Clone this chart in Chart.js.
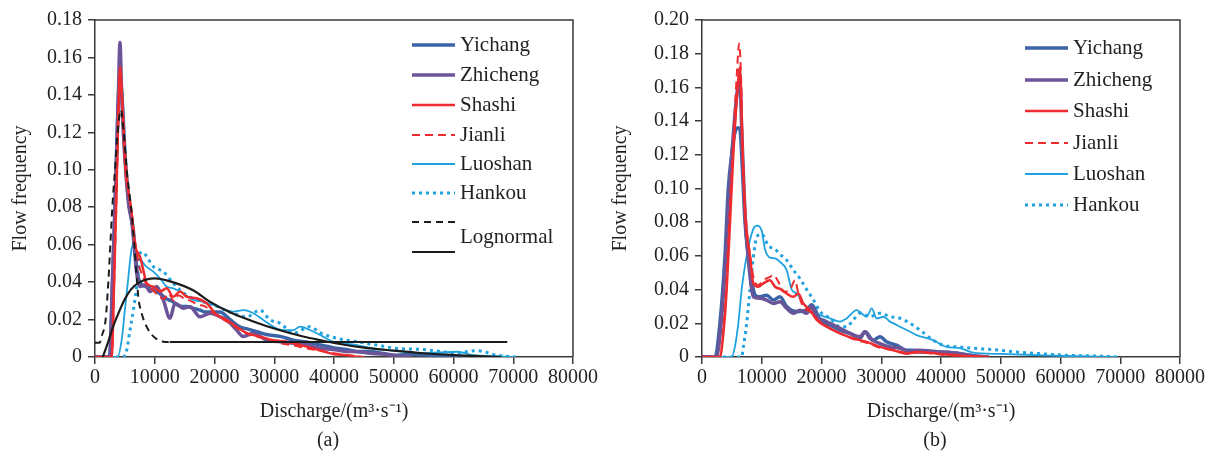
<!DOCTYPE html>
<html>
<head>
<meta charset="utf-8">
<script src="https://cdn.jsdelivr.net/npm/chart.js@4.4.0/dist/chart.umd.min.js"></script>
<style>
  html, body { margin: 0; padding: 0; background: #fff; }
  #wrap { position: relative; width: 1208px; height: 458px; }
  #chart_a { position: absolute; left: 0; top: 0; }
  #chart_b { position: absolute; left: 600px; top: 0; }
</style>
</head>
<body>
<div id="wrap">
  <canvas id="chart_a" width="600" height="458"></canvas>
  <canvas id="chart_b" width="608" height="458"></canvas>
</div>
<script>
// ---- panel (a) : discharge (m3/s) and flow frequency ----
var a_yichang_x = [0, 2400, 2900, 3400, 3800, 4200, 4600, 5000, 5500, 6000, 6400, 7000, 7500, 8600, 9500, 10300, 11200, 12000, 12800, 13700, 14500, 15400, 16500, 17600, 18500, 19300, 20900, 22600, 24300, 25500, 26500, 27600, 28700, 31000, 33200, 35400, 37700, 39800, 42000, 43800, 46000, 48000, 50500, 53000, 56000, 60000, 62000]
var a_yichang_y = [0, 0, 0.035, 0.085, 0.13, 0.150, 0.135, 0.11, 0.088, 0.075, 0.068, 0.047, 0.040, 0.0376, 0.036, 0.035, 0.033, 0.031, 0.030, 0.028, 0.027, 0.027, 0.026, 0.025, 0.024, 0.024, 0.024, 0.020, 0.016, 0.015, 0.014, 0.013, 0.012, 0.011, 0.009, 0.008, 0.0064, 0.005, 0.004, 0.003, 0.003, 0.002, 0.001, 0.0015, 0.001, 0.0008, 0]

var a_zhicheng_x = [0, 2500, 2900, 3350, 3740, 3910, 4180, 4460, 4740, 5130, 5690, 6140, 6530, 6970, 7530, 8370, 9200, 10320, 11430, 12550, 13390, 14780, 15900, 17570, 19250, 20920, 22040, 23700, 24830, 26500, 28730, 30960, 33190, 35430, 37660, 39800, 42000, 44000, 46000, 48000, 50500, 53000]
var a_zhicheng_y = [0, 0, 0.04, 0.08, 0.12, 0.14, 0.168, 0.14, 0.12, 0.10, 0.08, 0.073, 0.06, 0.045, 0.0376, 0.0385, 0.035, 0.0376, 0.0305, 0.0207, 0.0287, 0.026, 0.0269, 0.0215, 0.0234, 0.0215, 0.0198, 0.0144, 0.011, 0.0127, 0.009, 0.0082, 0.0073, 0.0064, 0.0046, 0.004, 0.003, 0.0028, 0.002, 0.0016, 0.0007, 0]

var a_shashi_x = [0, 2800, 3200, 3600, 3900, 4200, 4500, 4800, 5100, 5500, 6100, 6700, 7530, 8080, 8640, 9760, 10880, 12000, 13100, 14230, 15350, 17020, 18690, 20360, 22040, 23700, 25400, 27600, 29840, 32070, 34300, 36540, 38200, 40000, 42000, 44000]
var a_shashi_y = [0, 0, 0.04, 0.09, 0.13, 0.155, 0.14, 0.12, 0.10, 0.09, 0.078, 0.06, 0.0536, 0.0465, 0.0394, 0.0376, 0.035, 0.0367, 0.0322, 0.035, 0.0322, 0.0314, 0.0287, 0.0225, 0.0198, 0.0162, 0.0127, 0.0109, 0.009, 0.0082, 0.0064, 0.0046, 0.003, 0.0015, 0.001, 0]

var a_jianli_x = [0, 2800, 3200, 3600, 3900, 4250, 4600, 5000, 5500, 6100, 6700, 7300, 8000, 8800, 9600, 10500, 11500, 12300, 13200, 14000, 15000, 16000, 17200, 18400, 19600, 21000, 22500, 24000, 25800, 27500, 29500, 31500, 33500, 35500, 37500, 40000, 42500, 45000]
var a_jianli_y = [0, 0, 0.038, 0.085, 0.125, 0.148, 0.135, 0.112, 0.092, 0.078, 0.062, 0.05, 0.043, 0.038, 0.036, 0.033, 0.031, 0.034, 0.03, 0.033, 0.031, 0.03, 0.028, 0.027, 0.024, 0.021, 0.018, 0.015, 0.012, 0.0105, 0.0085, 0.007, 0.006, 0.0045, 0.0035, 0.002, 0.001, 0]

var a_luoshan_x = [0, 3800, 4500, 5000, 5500, 6000, 6300, 6980, 8370, 9760, 10880, 12000, 13100, 14780, 16450, 18100, 19800, 22040, 23150, 24830, 26500, 28170, 29840, 31500, 33190, 34300, 35980, 37660, 39830, 43800, 46500, 49900, 54900, 60600, 63300, 67300, 70000]
var a_luoshan_y = [0, 0, 0.01, 0.025, 0.04, 0.055, 0.060, 0.056, 0.049, 0.0456, 0.042, 0.0376, 0.0367, 0.034, 0.0305, 0.0296, 0.0278, 0.025, 0.0242, 0.025, 0.0234, 0.0198, 0.0162, 0.0144, 0.0144, 0.0162, 0.0144, 0.0118, 0.0082, 0.0064, 0.0046, 0.0034, 0.002, 0.0028, 0.001, 0.0005, 0]

var a_hankou_x = [0, 4700, 5300, 5860, 6420, 6980, 7250, 7530, 8080, 8640, 9760, 11430, 13100, 15350, 17570, 19800, 22600, 25400, 27600, 29300, 31000, 33200, 36000, 37660, 40440, 43780, 47130, 50500, 54900, 60530, 63880, 67230, 70600]
var a_hankou_y = [0, 0, 0.0037, 0.0144, 0.025, 0.0376, 0.0465, 0.0555, 0.056, 0.0536, 0.0483, 0.0456, 0.0394, 0.033, 0.030, 0.0278, 0.024, 0.0215, 0.025, 0.0198, 0.018, 0.0127, 0.0162, 0.0130, 0.010, 0.0082, 0.0064, 0.0046, 0.004, 0.0023, 0.0034, 0.001, 0]

// lognormal fits
var a_logdash_x = [0, 800, 1110, 1780, 2230, 2570, 2900, 3350, 3790, 4350, 4800, 5300, 6030, 6580, 7000, 7250, 7800, 8640, 9760, 11430, 12500, 69000]
var a_logdash_y = [0.0076, 0.0076, 0.011, 0.02, 0.04, 0.06, 0.08, 0.10, 0.12, 0.132, 0.12, 0.10, 0.08, 0.06, 0.042, 0.032, 0.0234, 0.0162, 0.011, 0.0082, 0.008, 0.008]

var a_logsolid_x = [1300, 2200, 3000, 4000, 5000, 6000, 7500, 10000, 13000, 16500, 19000, 22500, 26500, 30400, 35000, 38000, 40000, 45000, 50000, 55000, 60000, 65000, 68000]
var a_logsolid_y = [0, 0.008, 0.016, 0.024, 0.031, 0.036, 0.040, 0.042, 0.040, 0.0355, 0.030, 0.024, 0.019, 0.0148, 0.0108, 0.0088, 0.0075, 0.005, 0.0034, 0.002, 0.001, 0.0004, 0]

// ---- panel (b) ----
var b_yichang_x = [0, 2180, 3000, 3850, 4400, 4970, 5500, 6080, 6360, 6640, 7200, 7750, 8590, 9150, 9710, 10830, 11940, 13050, 14170, 15850, 17520, 18360, 19750, 21420, 23100, 24770, 26440, 27280, 28680, 29790, 30900, 32580, 34260, 35360, 36500, 39830, 43180, 46000, 48000]
var b_yichang_y = [0, 0, 0.02, 0.06, 0.10, 0.12, 0.133, 0.136, 0.135, 0.12, 0.08, 0.06, 0.04, 0.036, 0.0357, 0.0367, 0.0338, 0.0357, 0.030, 0.027, 0.028, 0.031, 0.022, 0.019, 0.016, 0.014, 0.011, 0.015, 0.010, 0.012, 0.009, 0.007, 0.004, 0.004, 0.003, 0.003, 0.002, 0.0005, 0]

var b_zhicheng_x = [0, 2400, 3200, 4000, 4600, 5200, 5800, 6300, 6700, 7200, 7700, 8590, 9710, 10830, 11940, 13050, 14170, 15290, 16400, 17520, 18360, 19190, 20300, 21420, 23100, 24770, 26440, 27280, 28120, 29790, 31460, 33140, 34810, 35930, 39830, 43180, 46000, 48000]
var b_zhicheng_y = [0, 0, 0.02, 0.06, 0.10, 0.13, 0.155, 0.165, 0.13, 0.085, 0.06, 0.0357, 0.0348, 0.0338, 0.0318, 0.0328, 0.0289, 0.0259, 0.0278, 0.0259, 0.0298, 0.0239, 0.0219, 0.020, 0.017, 0.014, 0.012, 0.015, 0.011, 0.008, 0.006, 0.0052, 0.003, 0.004, 0.003, 0.002, 0.0005, 0]

var b_shashi_x = [0, 3000, 3600, 4130, 4690, 5240, 5970, 6360, 6810, 7300, 8030, 8590, 9430, 10260, 11380, 12220, 13330, 14170, 15290, 16120, 16950, 18080, 19190, 20860, 23100, 25330, 27560, 29790, 32020, 34260, 35930, 39830, 44300, 48000]
var b_shashi_y = [0, 0, 0.015, 0.04, 0.08, 0.12, 0.16, 0.172, 0.12, 0.08, 0.06, 0.0437, 0.0417, 0.0437, 0.0456, 0.0417, 0.040, 0.0377, 0.0357, 0.0377, 0.0318, 0.0278, 0.022, 0.018, 0.014, 0.011, 0.009, 0.006, 0.004, 0.002, 0.003, 0.0018, 0.0006, 0]

var b_jianli_x = [0, 3000, 3600, 4100, 4600, 5200, 5700, 6000, 6200, 6500, 6800, 7300, 8000, 8590, 9430, 10260, 11380, 11940, 12780, 13610, 14730, 15570, 16120, 16950, 18080, 19750, 21420, 23500, 25500, 27500, 29800, 32000, 34500, 37000, 40000, 44000, 48000]
var b_jianli_y = [0, 0, 0.018, 0.045, 0.085, 0.125, 0.16, 0.178, 0.186, 0.17, 0.125, 0.085, 0.062, 0.0476, 0.0427, 0.0456, 0.0476, 0.0486, 0.0446, 0.0387, 0.040, 0.0456, 0.0377, 0.0298, 0.0269, 0.021, 0.017, 0.0135, 0.0105, 0.0085, 0.0055, 0.0042, 0.0025, 0.0025, 0.0015, 0.0005, 0]

var b_luoshan_x = [0, 4970, 5500, 6080, 6640, 7480, 8590, 9200, 9990, 10540, 11380, 12220, 13050, 14170, 15010, 15850, 16950, 18080, 19750, 21420, 23100, 24210, 25890, 27560, 28400, 29230, 30350, 31460, 32580, 34260, 35930, 38670, 40950, 43180, 45370, 49870, 55400, 61000, 69500]
var b_luoshan_y = [0, 0, 0.006, 0.02, 0.04, 0.06, 0.076, 0.078, 0.075, 0.064, 0.059, 0.0585, 0.0565, 0.0516, 0.040, 0.0377, 0.0318, 0.0278, 0.0249, 0.0229, 0.021, 0.0229, 0.0278, 0.0239, 0.0289, 0.0229, 0.0239, 0.021, 0.019, 0.016, 0.013, 0.010, 0.006, 0.0052, 0.0026, 0.0018, 0.0012, 0.0006, 0]

var b_hankou_x = [0, 6640, 6920, 7480, 8030, 8590, 9150, 9990, 11100, 12220, 13050, 14170, 15290, 16400, 17520, 18630, 19750, 21420, 23100, 24210, 25330, 26440, 28120, 29790, 31460, 33140, 34810, 36490, 38670, 40390, 42600, 46000, 49900, 52700, 56600, 61000, 66600, 69500]
var b_hankou_y = [0, 0, 0.006, 0.020, 0.040, 0.059, 0.071, 0.073, 0.066, 0.064, 0.061, 0.0575, 0.0516, 0.0466, 0.040, 0.034, 0.027, 0.023, 0.018, 0.018, 0.022, 0.026, 0.024, 0.026, 0.024, 0.023, 0.020, 0.016, 0.010, 0.007, 0.006, 0.005, 0.004, 0.003, 0.002, 0.001, 0.0005, 0]

// axis ticks
var x_ticks = [0, 10000, 20000, 30000, 40000, 50000, 60000, 70000, 80000]
var a_y_max = 0.18
var b_y_max = 0.20

var colors = {
  yichang: '#3b64a6',
  zhicheng: '#6b5598',
  red: '#ee2b2e',
  light: '#1fa2de',
  black: '#1c1c1c'
}

var serif = '"Liberation Serif", "Times New Roman", serif'
var text_color = '#231f20'
var axis_color = '#3a3a3a'

function pts(xs, ys) {
  return xs.map(function (x, i) { return { x: x, y: ys[i] } })
}

function series(label, xs, ys, color, width, dash, order) {
  return {
    label: label,
    data: pts(xs, ys),
    borderColor: color,
    borderWidth: width,
    borderDash: dash,
    pointRadius: 0,
    fill: false,
    cubicInterpolationMode: 'monotone',
    order: order
  }
}

// frame on top and right side of the plot
var framePlugin = {
  id: 'frame',
  afterDatasetsDraw: function (chart) {
    var a = chart.chartArea, c = chart.ctx
    c.save()
    c.strokeStyle = axis_color
    c.lineWidth = 1.5
    c.beginPath()
    c.moveTo(a.left, a.top)
    c.lineTo(a.right, a.top)
    c.lineTo(a.right, a.bottom)
    c.stroke()
    c.restore()
  }
}

// legend drawn inside the plot, plus the panel letter
var sideLegend = {
  id: 'sideLegend',
  afterDraw: function (chart, args, opts) {
    var c = chart.ctx
    c.save()
    c.font = '21px ' + serif
    c.textBaseline = 'middle'
    c.textAlign = 'left'
    c.fillStyle = text_color
    opts.rows.forEach(function (row) {
      var ds = chart.data.datasets[row.ds]
      c.strokeStyle = ds.borderColor
      c.lineWidth = ds.borderWidth
      c.setLineDash(row.dash || ds.borderDash || [])
      c.beginPath()
      c.moveTo(opts.x0, row.y)
      c.lineTo(opts.x1, row.y)
      c.stroke()
      if (row.text !== false) c.fillText(ds.label, opts.tx, row.textY || row.y)
    })
    c.setLineDash([])
    c.font = '20px ' + serif
    c.textAlign = 'center'
    var a = chart.chartArea
    c.fillText(opts.panel, (a.left + a.right) / 2 - 6, opts.panelY)
    c.restore()
  }
}

function makeOptions(ymax, yWidth, padRight, legendOpts) {
  return {
    responsive: false,
    animation: false,
    layout: { padding: { left: 0, right: padRight, top: 20, bottom: 34 } },
    plugins: {
      legend: { display: false },
      tooltip: { enabled: false },
      sideLegend: legendOpts
    },
    scales: {
      x: {
        type: 'linear',
        min: 0,
        max: 80000,
        afterFit: function (s) { s.height = 67 },
        afterBuildTicks: function (s) { s.ticks = x_ticks.map(function (v) { return { value: v } }) },
        ticks: {
          autoSkip: false,
          maxRotation: 0,
          padding: 2,
          color: text_color,
          font: { family: serif, size: 20 },
          callback: function (v) { return String(v) }
        },
        grid: { display: true, drawOnChartArea: false, drawTicks: true, tickLength: 7, color: axis_color, lineWidth: 1.5 },
        border: { display: true, color: axis_color, width: 1.5 },
        title: {
          display: true,
          text: 'Discharge/(m³·s⁻¹)',
          color: text_color,
          font: { family: serif, size: 20 },
          padding: { top: 0, bottom: 0 }
        }
      },
      y: {
        min: 0,
        max: ymax,
        afterFit: function (s) { s.width = yWidth },
        ticks: {
          stepSize: 0.02,
          padding: 6,
          color: text_color,
          font: { family: serif, size: 20 },
          callback: function (v) { return v === 0 ? '0' : v.toFixed(2) }
        },
        grid: { display: true, drawOnChartArea: false, drawTicks: true, tickLength: 7, color: axis_color, lineWidth: 1.5 },
        border: { display: true, color: axis_color, width: 1.5 },
        title: {
          display: true,
          text: 'Flow frequency',
          color: text_color,
          font: { family: serif, size: 20 },
          padding: { top: 9, bottom: 0 }
        }
      }
    }
  }
}

var logDash = series('Lognormal', a_logdash_x, a_logdash_y, colors.black, 2, [7, 5], 0)
logDash.segment = {
  borderDash: function (ctx) { return ctx.p0.parsed.x >= 12000 ? [] : undefined }
}

var chart_a = new Chart(document.getElementById('chart_a').getContext('2d'), {
  type: 'line',
  data: {
    datasets: [
      series('Yichang', a_yichang_x, a_yichang_y, colors.yichang, 3.5, [], 5),
      series('Zhicheng', a_zhicheng_x, a_zhicheng_y, colors.zhicheng, 3.5, [], 4),
      series('Shashi', a_shashi_x, a_shashi_y, colors.red, 2.5, [], 2),
      series('Jianli', a_jianli_x, a_jianli_y, colors.red, 2, [8, 5], 3),
      series('Luoshan', a_luoshan_x, a_luoshan_y, colors.light, 1.8, [], 6),
      series('Hankou', a_hankou_x, a_hankou_y, colors.light, 3, [3, 4], 7),
      logDash,
      series('Lognormal', a_logsolid_x, a_logsolid_y, colors.black, 2.2, [], 1)
    ]
  },
  options: makeOptions(a_y_max, 95, 27, {
    x0: 412, x1: 455, tx: 460,
    rows: [
      { ds: 0, y: 45 }, { ds: 1, y: 75 }, { ds: 2, y: 105 },
      { ds: 3, y: 135 }, { ds: 4, y: 164 }, { ds: 5, y: 193 },
      { ds: 6, y: 222, text: false }, { ds: 7, y: 252, textY: 237 }
    ],
    panel: '(a)', panelY: 441
  }),
  plugins: [framePlugin, sideLegend]
})

var chart_b = new Chart(document.getElementById('chart_b').getContext('2d'), {
  type: 'line',
  data: {
    datasets: [
      series('Yichang', b_yichang_x, b_yichang_y, colors.yichang, 3.5, [], 5),
      series('Zhicheng', b_zhicheng_x, b_zhicheng_y, colors.zhicheng, 3.5, [], 4),
      series('Shashi', b_shashi_x, b_shashi_y, colors.red, 2.5, [], 2),
      series('Jianli', b_jianli_x, b_jianli_y, colors.red, 2, [8, 5], 3),
      series('Luoshan', b_luoshan_x, b_luoshan_y, colors.light, 1.8, [], 6),
      series('Hankou', b_hankou_x, b_hankou_y, colors.light, 3, [3, 4], 7)
    ]
  },
  options: makeOptions(b_y_max, 102, 28, {
    x0: 425, x1: 468, tx: 473,
    rows: [
      { ds: 0, y: 48 }, { ds: 1, y: 80 }, { ds: 2, y: 111 },
      { ds: 3, y: 143 }, { ds: 4, y: 174 }, { ds: 5, y: 205 }
    ],
    panel: '(b)', panelY: 441
  }),
  plugins: [framePlugin, sideLegend]
})
</script>
</body>
</html>
